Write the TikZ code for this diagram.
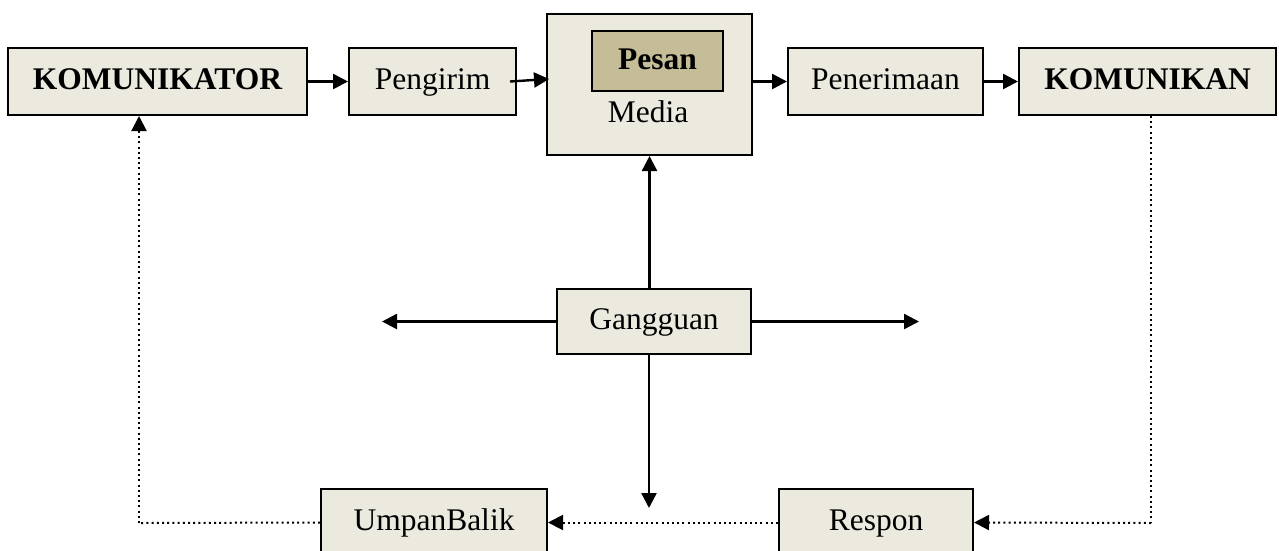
\documentclass[tikz,border=0pt]{standalone}
\usepackage{fontspec}
\setmainfont{Liberation Serif}
\usetikzlibrary{arrows.meta}
\definecolor{boxfill}{HTML}{ECEADF}
\definecolor{pesanfill}{HTML}{C4BD97}
\begin{document}
\begin{tikzpicture}[x=1pt,y=-1pt,
  box/.style={draw=black, line width=2pt, fill=boxfill, rectangle, inner sep=0pt,
    font=\fontsize{31.5}{36}\selectfont, text height=22pt, text depth=6pt},
  lbl/.style={font=\fontsize{31.5}{36}\selectfont, inner sep=0pt},
  conn/.style={line width=2.4pt, -{Triangle[length=15pt,width=15pt]}},
  fb/.style={line width=2pt, dash pattern=on 2pt off 3.2pt, -{Triangle[length=15pt,width=15pt]}},
  fbline/.style={line width=2pt, dash pattern=on 2pt off 3.2pt}]
\useasboundingbox (0,0) rectangle (1279,550);
\clip (0,0) rectangle (1279,550);
% nodes
\node[box, minimum width=299pt, minimum height=67pt] (kom) at (157.5,81.5) {\bfseries KOMUNIKATOR};
\node[box, minimum width=167pt, minimum height=67pt] (peng) at (432.5,81.5) {Pengirim};
\node[box, minimum width=205pt, minimum height=141pt] (media) at (649.5,84.5) {};
\node[box, fill=pesanfill, minimum width=131pt, minimum height=60pt] (pesan) at (657.5,61) {\bfseries Pesan};
\node[lbl, anchor=base] (medialbl) at (648,122) {Media};
\node[box, minimum width=195pt, minimum height=67pt] (pener) at (885.5,81.5) {Penerimaan};
\node[box, minimum width=257pt, minimum height=67pt] (komn) at (1147.5,81.5) {\bfseries KOMUNIKAN};
\node[box, minimum width=194pt, minimum height=65pt] (gang) at (654,321.5) {Gangguan};
\node[box, minimum width=226pt, minimum height=67pt] (umpan) at (434,522.5) {UmpanBalik};
\node[box, minimum width=194pt, minimum height=67pt] (respon) at (876,522.5) {Respon};
% free ends
\coordinate (gl) at (382,321.5);
\coordinate (gr) at (919,321.5);
\coordinate (gd) at (649,508);
\coordinate (fbk) at (139,523);
\coordinate (fbr) at (1151,523);
% forward chain
\draw[conn] (kom.east) -- (peng.west);
\draw[conn] ([xshift=-7pt]peng.east) -- ([xshift=3pt,yshift=5.5pt]media.west);
\draw[conn] (media.east |- pener.west) -- (pener.west);
\draw[conn] (pener.east) -- (komn.west);
% noise
\draw[conn] (gang.north -| media.south) -- (media.south);
\draw[conn] (gang.west) -- (gl);
\draw[conn] (gang.east) -- (gr);
\draw[conn] (gang.south -| gd) -- (gd);
% feedback
\draw[fbline] (komn.south -| fbr) -- (fbr);
\draw[fb] (fbr) -- (respon.east);
\draw[fb] (respon.west) -- (umpan.east);
\draw[fbline] (umpan.west) -- (fbk);
\draw[fb] (fbk) -- (fbk |- kom.south);
\end{tikzpicture}
\end{document}
